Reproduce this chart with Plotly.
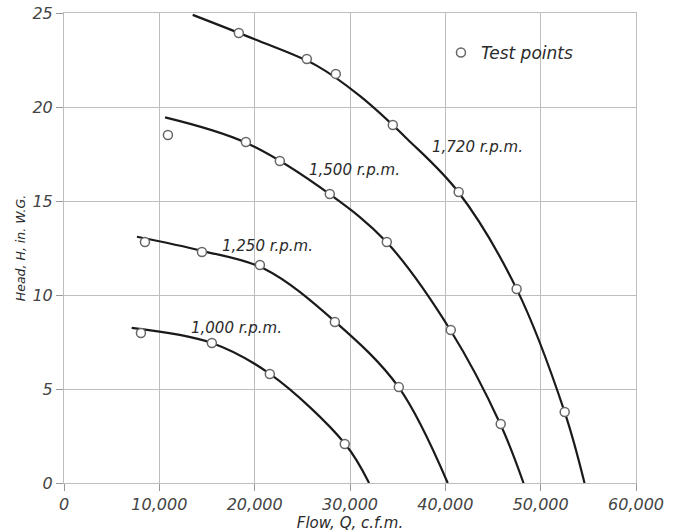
import plotly.graph_objects as go

# Curves (flow c.f.m., head in. W.G.)
q_1720 = [13500, 20000, 26500, 31000, 36000, 41400, 47500, 52500, 54600]
h_1720 = [24.9, 23.6, 22.2, 20.6, 18.3, 15.45, 10.3, 3.8, 0.0]
q_1500 = [10600, 19080, 27900, 33860, 40570, 45800, 48200]
h_1500 = [19.45, 18.1, 15.35, 12.8, 8.1, 3.1, 0.0]
q_1250 = [7650, 14470, 21000, 28400, 35100, 40250]
h_1250 = [13.1, 12.35, 11.4, 8.6, 5.1, 0.0]
q_1000 = [7100, 15500, 21600, 29450, 32000]
h_1000 = [8.25, 7.45, 5.8, 2.1, 0.0]

# Test points
tp_q = [18340, 25470, 28510, 34490, 41400, 47480, 52520,
        10900, 19080, 22640, 27880, 33860, 40570, 45810,
        8490, 14470, 20550, 28410, 35120,
        8070, 15510, 21590, 29450]
tp_h = [23.94, 22.55, 21.76, 19.04, 15.48, 10.32, 3.78,
        18.51, 18.14, 17.13, 15.37, 12.82, 8.14, 3.14,
        12.82, 12.29, 11.6, 8.56, 5.1,
        7.98, 7.45, 5.8, 2.07]

labels = ["1,720 r.p.m.", "1,500 r.p.m.", "1,250 r.p.m.", "1,000 r.p.m."]
label_q = [43400, 30500, 21300, 18100]
label_h = [17.85, 16.65, 12.6, 8.25]

x_ticks = [0, 10000, 20000, 30000, 40000, 50000, 60000]
x_ticktext = ["0", "10,000", "20,000", "30,000", "40,000", "50,000", "60,000"]
y_ticks = [0, 5, 10, 15, 20, 25]

FONT = "DejaVu Sans"
INK = "#2a2a2a"

fig = go.Figure()
for q, h in [(q_1720, h_1720), (q_1500, h_1500), (q_1250, h_1250), (q_1000, h_1000)]:
    fig.add_trace(go.Scatter(x=q, y=h, mode="lines",
                             line=dict(color="#1a1a1a", width=2.2, shape="spline", smoothing=1.0),
                             showlegend=False, hoverinfo="skip"))

fig.add_trace(go.Scatter(x=tp_q, y=tp_h, mode="markers", name="Test points",
                         marker=dict(symbol="circle", size=9, color="white", line=dict(color="#666666", width=1.5)),
                         showlegend=True))

for t, xq, yh in zip(labels, label_q, label_h):
    fig.add_annotation(x=xq, y=yh, text=t, showarrow=False, xanchor="center", yanchor="middle",
                       font=dict(family=FONT, size=15, color=INK, style="italic"))

axis_common = dict(showgrid=True, gridcolor="#bdbdbd", gridwidth=1, showline=True, mirror=True,
                   linecolor="#bdbdbd", linewidth=1, ticks="outside", ticklen=7, tickcolor="#9a9a9a",
                   zeroline=False, automargin=False,
                   tickfont=dict(family=FONT, size=16, color="#444444", style="italic"))

fig.update_xaxes(range=[0, 60000], tickvals=x_ticks, ticktext=x_ticktext,
                 title=dict(text="Flow, Q, c.f.m.", font=dict(family=FONT, size=15, color=INK, style="italic"), standoff=2),
                 **axis_common)
fig.update_yaxes(range=[0, 25], tickvals=y_ticks,
                 title=dict(text="Head, H, in. W.G.", font=dict(family=FONT, size=12.5, color=INK, style="italic"), standoff=4),
                 **axis_common)

fig.update_layout(width=677, height=532, margin=dict(l=64, r=41, t=13, b=49),
                  paper_bgcolor="white", plot_bgcolor="white",
                  legend=dict(x=0.659, y=0.915, xanchor="left", yanchor="middle", bgcolor="rgba(0,0,0,0)",
                              font=dict(family=FONT, size=17, color=INK, style="italic")),
                  font=dict(family=FONT))

fig.write_html("out.html")
